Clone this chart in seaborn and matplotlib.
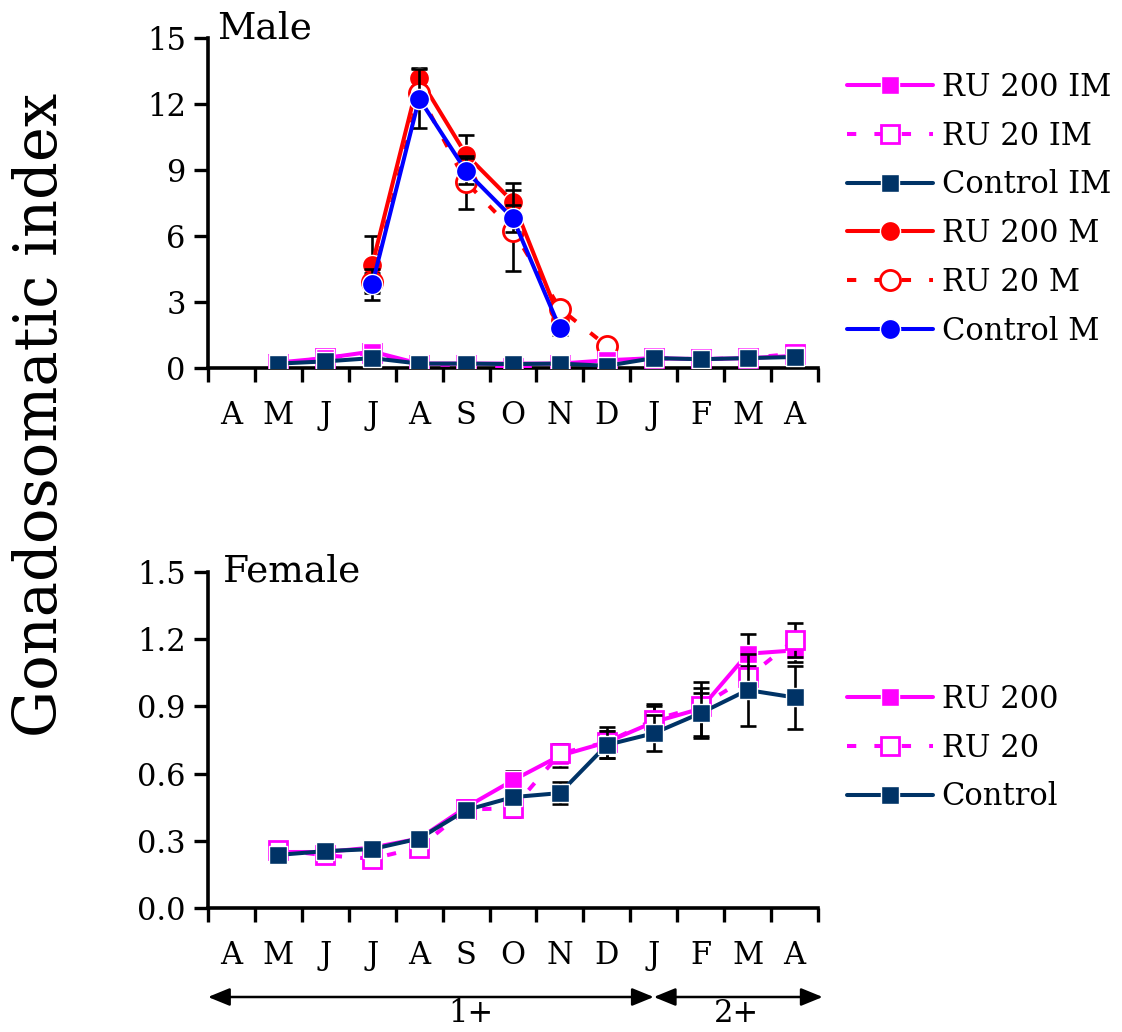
import numpy as np
import pandas as pd
import matplotlib
matplotlib.use("Agg")
import matplotlib.pyplot as plt
import seaborn as sns
from matplotlib.lines import Line2D

nan = np.nan
months = ["A", "M", "J", "J", "A", "S", "O", "N", "D", "J", "F", "M", "A"]

# Male immature (IM) series
ru200_im_m = [nan, 0.25, 0.45, 0.75, 0.2, 0.2, 0.2, 0.2, 0.35, 0.45, 0.4, 0.45, 0.55]
ru20_im_m = [nan, 0.2, 0.45, 0.7, 0.15, 0.15, 0.0, 0.15, 0.3, 0.45, 0.4, 0.45, 0.65]
control_im_m = [nan, 0.2, 0.3, 0.45, 0.2, 0.2, 0.18, 0.2, 0.1, 0.45, 0.4, 0.45, 0.5]

# Male mature (M) series
ru200_m = [nan, nan, nan, 4.7, 13.2, 9.7, 7.55, 2.2, nan, nan, nan, nan, nan]
ru20_m = [nan, nan, nan, 3.9, 12.5, 8.45, 6.25, 2.7, 1.0, nan, nan, nan, nan]
control_m = [nan, nan, nan, 3.8, 12.25, 8.95, 6.8, 1.8, nan, nan, nan, nan, nan]
ru200_m_err = [nan, nan, nan, 1.3, 0.45, 0.9, 0.85, 0.4, nan, nan, nan, nan, nan]
ru20_m_err = [nan, nan, nan, 0.4, 0.3, 1.2, 1.85, 0.3, 0.1, nan, nan, nan, nan]
control_m_err = [nan, nan, nan, 0.7, 1.35, 0.6, 0.6, 0.3, nan, nan, nan, nan, nan]

# Female series
ru200_f = [nan, 0.25, 0.25, 0.27, 0.31, 0.45, 0.57, 0.68, 0.74, 0.83, 0.89, 1.135, 1.15]
ru20_f = [nan, 0.26, 0.235, 0.22, 0.27, 0.44, 0.445, 0.69, 0.74, 0.84, 0.90, 1.03, 1.196]
control_f = [nan, 0.237, 0.254, 0.263, 0.31, 0.437, 0.495, 0.513, 0.728, 0.78, 0.87, 0.973, 0.94]
ru200_f_err = [nan, 0.01, 0.01, 0.01, 0.01, 0.02, 0.04, 0.05, 0.07, 0.08, 0.12, 0.09, 0.05]
ru20_f_err = [nan, 0.01, 0.01, 0.015, 0.01, 0.02, 0.04, 0.04, 0.05, 0.06, 0.06, 0.05, 0.075]
control_f_err = [nan, 0.01, 0.01, 0.01, 0.01, 0.02, 0.03, 0.05, 0.06, 0.08, 0.11, 0.16, 0.14]

male_yticks = [0, 3, 6, 9, 12, 15]
female_yticks = [0.0, 0.3, 0.6, 0.9, 1.2, 1.5]

MAG = "#FF00FF"
NAVY = "#003366"
RED = "#FF0000"
BLUE = "#0000FF"

sns.set_theme(style="ticks")
plt.rcParams["font.family"] = ["DejaVu Serif"]
for k in ["text.color", "axes.labelcolor", "xtick.color", "ytick.color", "axes.edgecolor"]:
    plt.rcParams[k] = "black"
FS = 22

fig = plt.figure(figsize=(11.22, 10.32), dpi=100)
W, H = 1122, 1032
ax1 = fig.add_axes([208 / W, 1 - 368 / H, 610 / W, 330 / H])
ax2 = fig.add_axes([208 / W, 1 - 908 / H, 610 / W, 336 / H])

x = np.arange(len(months))
LW = 2.9
DASH = (0, (2.3, 4.5))


def style(color, marker, filled, dashed, ms):
    kw = dict(color=color, marker=marker, markersize=ms, linewidth=LW)
    if filled:
        kw.update(markerfacecolor=color, markeredgecolor="white", markeredgewidth=1.0)
    else:
        kw.update(markerfacecolor="white", markeredgecolor=color, markeredgewidth=2.0)
    kw["linestyle"] = DASH if dashed else "-"
    return kw


def draw(ax, vals, errs, st, z):
    df = pd.DataFrame({"x": x, "y": vals}).dropna()
    if errs is not None:
        e = pd.DataFrame({"x": x, "y": vals, "e": errs}).dropna()
        ax.errorbar(e["x"], e["y"], yerr=e["e"], fmt="none", ecolor="black",
                    elinewidth=1.9, capsize=5.5, capthick=1.9, zorder=z - 0.5)
    sns.lineplot(data=df, x="x", y="y", ax=ax, errorbar=None, zorder=z, **st)


SQ = 13
CI = 14.5
# Male
draw(ax1, ru200_m, ru200_m_err, style(RED, "o", True, False, CI), 3)
draw(ax1, ru20_m, ru20_m_err, style(RED, "o", False, True, CI), 4)
draw(ax1, control_m, control_m_err, style(BLUE, "o", True, False, CI), 5)
draw(ax1, ru20_im_m, None, style(MAG, "s", False, True, SQ), 6)
draw(ax1, ru200_im_m, None, style(MAG, "s", True, False, SQ), 7)
draw(ax1, control_im_m, None, style(NAVY, "s", True, False, SQ), 8)

# Female
draw(ax2, ru200_f, ru200_f_err, style(MAG, "s", True, False, SQ), 3)
draw(ax2, ru20_f, ru20_f_err, style(MAG, "s", False, True, SQ), 4)
draw(ax2, control_f, control_f_err, style(NAVY, "s", True, False, SQ), 5)

for ax, yt, ylim, fmt in [(ax1, male_yticks, (0, 15), "{:d}"),
                          (ax2, female_yticks, (0, 1.5), "{:.1f}")]:
    ax.set_xlim(-0.5, len(months) - 0.5)
    ax.set_ylim(*ylim)
    ax.set_yticks(yt)
    ax.set_yticklabels([fmt.format(v) for v in yt], fontsize=FS)
    ax.set_xticks(x)
    ax.set_xticklabels(months, fontsize=FS)
    ax.set_xticks(np.arange(-0.5, len(months)), minor=True)
    ax.tick_params(axis="x", which="major", length=0, pad=23)
    ax.tick_params(axis="x", which="minor", length=10, width=2.4, direction="out")
    ax.tick_params(axis="y", which="major", length=10, width=2.4, direction="out", pad=6)
    ax.set_xlabel("")
    ax.set_ylabel("")
    for s in ["top", "right"]:
        ax.spines[s].set_visible(False)
    for s in ["left", "bottom"]:
        ax.spines[s].set_linewidth(2.6)
        ax.spines[s].set_color("black")

ax1.text(0.015, 1.03, "Male", transform=ax1.transAxes, fontsize=27, va="center", ha="left")
ax2.text(0.025, 1.0, "Female", transform=ax2.transAxes, fontsize=27, va="center", ha="left")

fig.text(40 / W, 1 - 415 / H, "Gonadosomatic index", rotation=90, fontsize=42.5,
         ha="center", va="center")


def handle(st):
    return Line2D([0], [0], **st)


h_male = [handle(style(MAG, "s", True, False, SQ)),
          handle(style(MAG, "s", False, True, SQ)),
          handle(style(NAVY, "s", True, False, SQ)),
          handle(style(RED, "o", True, False, CI)),
          handle(style(RED, "o", False, True, CI)),
          handle(style(BLUE, "o", True, False, CI))]
l_male = ["RU 200 IM", "RU 20 IM", "Control IM", "RU 200 M", "RU 20 M", "Control M"]
fig.legend(h_male, l_male, loc="upper left", bbox_to_anchor=(847 / W, 1 - 72 / H),
           frameon=False, fontsize=FS, handlelength=2.8, handletextpad=0.3,
           labelspacing=0.58, borderpad=0, borderaxespad=0)

h_fem = [handle(style(MAG, "s", True, False, SQ)),
         handle(style(MAG, "s", False, True, SQ)),
         handle(style(NAVY, "s", True, False, SQ))]
l_fem = ["RU 200", "RU 20", "Control"]
fig.legend(h_fem, l_fem, loc="upper left", bbox_to_anchor=(847 / W, 1 - 684 / H),
           frameon=False, fontsize=FS, handlelength=2.8, handletextpad=0.3,
           labelspacing=0.58, borderpad=0, borderaxespad=0)

# Age-class arrows
tr = ax2.get_xaxis_transform()
ya = (908 - 997) / 336
arrow_kw = dict(arrowstyle="<|-|>,head_length=1.1,head_width=0.45", color="black", lw=1.8,
                shrinkA=0, shrinkB=0)
ax2.annotate("", xy=(-0.5, ya), xytext=(9.0, ya), xycoords=tr, textcoords=tr,
             arrowprops=arrow_kw, annotation_clip=False)
ax2.annotate("", xy=(9.0, ya), xytext=(12.6, ya), xycoords=tr, textcoords=tr,
             arrowprops=arrow_kw, annotation_clip=False)
yl = (908 - 1013) / 336
ax2.text(5.1, yl, "1+", transform=tr, fontsize=FS, ha="center", va="center", clip_on=False)
ax2.text(10.76, yl, "2+", transform=tr, fontsize=FS, ha="center", va="center", clip_on=False)

fig.savefig("out.png", dpi=100)
